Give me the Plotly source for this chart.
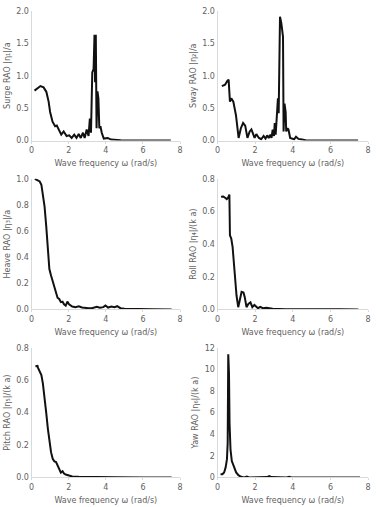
import plotly.graph_objects as go
from plotly.subplots import make_subplots

# ---- data ----
surge_w = [0.16, 0.48, 0.65, 0.8, 0.92, 1.0, 1.13, 1.27, 1.36, 1.48, 1.6, 1.73, 1.89, 2.03, 2.16, 2.3, 2.42, 2.54, 2.65, 2.77, 2.86, 2.97, 3.07, 3.14, 3.2, 3.27, 3.34, 3.39, 3.42, 3.46, 3.5, 3.55, 3.6, 3.65, 3.71, 3.78, 3.89, 4.1, 4.28, 4.8, 5.5, 6.5, 7.5]
surge_r = [0.77, 0.84, 0.82, 0.75, 0.6, 0.44, 0.29, 0.22, 0.23, 0.17, 0.09, 0.14, 0.07, 0.08, 0.04, 0.09, 0.04, 0.10, 0.04, 0.12, 0.04, 0.17, 0.07, 0.34, 0.12, 1.05, 1.1, 1.63, 0.9, 1.63, 0.19, 0.76, 0.65, 0.19, 0.22, 0.12, 0.03, 0.04, 0.015, 0.005, 0.002, 0.001, 0.0]

sway_w = [0.23, 0.4, 0.52, 0.59, 0.66, 0.73, 0.84, 0.98, 1.12, 1.24, 1.36, 1.47, 1.59, 1.71, 1.8, 1.89, 1.97, 2.06, 2.2, 2.32, 2.45, 2.55, 2.64, 2.72, 2.81, 2.87, 2.93, 3.0, 3.04, 3.09, 3.14, 3.21, 3.25, 3.32, 3.39, 3.44, 3.48, 3.51, 3.56, 3.62, 3.65, 3.72, 3.77, 3.86, 4.07, 4.17, 4.3, 4.42, 4.68, 5.5, 6.5, 7.47]
sway_r = [0.84, 0.86, 0.92, 0.94, 0.6, 0.65, 0.6, 0.39, 0.04, 0.19, 0.27, 0.23, 0.04, 0.14, 0.17, 0.09, 0.04, 0.10, 0.04, 0.02, 0.07, 0.03, 0.08, 0.04, 0.09, 0.04, 0.17, 0.07, 0.27, 0.09, 0.39, 0.65, 0.42, 1.91, 1.81, 1.62, 1.6, 0.14, 0.57, 0.44, 0.14, 0.19, 0.17, 0.04, 0.02, 0.06, 0.025, 0.02, 0.005, 0.002, 0.001, 0.0]

heave_w = [0.18, 0.35, 0.44, 0.53, 0.61, 0.7, 0.79, 0.88, 0.96, 1.05, 1.14, 1.23, 1.32, 1.4, 1.49, 1.58, 1.67, 1.75, 1.84, 1.93, 2.02, 2.19, 2.37, 2.54, 2.72, 2.9, 3.07, 3.25, 3.51, 3.68, 3.86, 3.98, 4.12, 4.3, 4.47, 4.61, 4.79, 5.0, 5.53, 6.5, 7.54]
heave_r = [1.0, 0.99, 0.98, 0.955, 0.89, 0.79, 0.64, 0.46, 0.31, 0.26, 0.22, 0.18, 0.13, 0.09, 0.08, 0.056, 0.06, 0.04, 0.03, 0.06, 0.04, 0.023, 0.018, 0.025, 0.015, 0.01, 0.01, 0.01, 0.02, 0.013, 0.018, 0.03, 0.015, 0.023, 0.018, 0.025, 0.01, 0.005, 0.002, 0.001, 0.0]

roll_w = [0.19, 0.31, 0.4, 0.49, 0.56, 0.63, 0.66, 0.73, 0.8, 0.87, 0.94, 1.01, 1.1, 1.19, 1.28, 1.38, 1.45, 1.54, 1.64, 1.75, 1.85, 1.96, 2.06, 2.15, 2.27, 2.41, 2.59, 2.93, 3.63, 4.5, 5.03, 5.73, 6.5, 7.48]
roll_r = [0.69, 0.692, 0.684, 0.676, 0.684, 0.704, 0.454, 0.434, 0.384, 0.284, 0.184, 0.084, 0.014, 0.074, 0.108, 0.104, 0.074, 0.014, 0.034, 0.044, 0.014, 0.028, 0.02, 0.008, 0.016, 0.008, 0.01, 0.004, 0.002, 0.003, 0.004, 0.002, 0.001, 0.0]

pitch_w = [0.21, 0.32, 0.35, 0.44, 0.53, 0.61, 0.7, 0.79, 0.88, 0.96, 1.05, 1.14, 1.23, 1.32, 1.4, 1.49, 1.58, 1.67, 1.75, 1.84, 2.02, 2.19, 2.54, 3.07, 4.5, 6.0, 7.54]
pitch_r = [0.686, 0.688, 0.676, 0.652, 0.632, 0.58, 0.5, 0.4, 0.3, 0.217, 0.156, 0.115, 0.099, 0.095, 0.075, 0.05, 0.03, 0.038, 0.024, 0.018, 0.01, 0.006, 0.004, 0.002, 0.001, 0.0, 0.0]

yaw_w = [0.16, 0.26, 0.35, 0.43, 0.5, 0.54, 0.57, 0.61, 0.64, 0.69, 0.76, 0.87, 0.99, 1.11, 1.25, 1.42, 1.56, 1.68, 2.63, 2.75, 2.86, 3.67, 3.81, 3.93, 5.5, 7.57]
yaw_r = [0.3, 0.3, 0.46, 0.91, 1.67, 3.19, 11.4, 9.57, 5.0, 2.58, 1.52, 0.91, 0.46, 0.21, 0.06, 0.0, 0.09, 0.0, 0.03, 0.12, 0.03, 0.0, 0.06, 0.0, 0.0, 0.0]

y_titles = ["Surge RAO |η₁|/a", "Sway RAO |η₂|/a", "Heave RAO |η₃|/a",
            "Roll RAO |η₄|/(k a)", "Pitch RAO |η₅|/(k a)", "Yaw RAO |η₆|/(k a)"]
y_ranges = [[0, 2.0], [0, 2.0], [0, 1.0], [0, 0.8], [0, 0.8], [0, 12]]
y_dticks = [0.5, 0.5, 0.2, 0.2, 0.2, 2]
y_formats = [".1f", ".1f", ".1f", ".1f", ".1f", "d"]
x_label = "Wave frequency ω (rad/s)"

series = [(surge_w, surge_r), (sway_w, sway_r), (heave_w, heave_r),
          (roll_w, roll_r), (pitch_w, pitch_r), (yaw_w, yaw_r)]

W, H = 376, 507
col_px = [(29, 180), (218, 371)]
row_px = [(7, 139), (178, 311), (350, 482)]

fig = make_subplots(rows=3, cols=2)
font_fam = "DejaVu Sans, Verdana, sans-serif"
grey = "#5f5f5f"

for i, (w, r) in enumerate(series):
    row, col = i // 2 + 1, i % 2 + 1
    fig.add_trace(go.Scatter(x=w, y=r, mode="lines",
                             line=dict(color="#111111", width=2),
                             showlegend=False), row=row, col=col)
    x0, x1 = col_px[col - 1]
    y0, y1 = row_px[row - 1]
    xd = [x0 / W, x1 / W]
    yd = [1 - y1 / H, 1 - y0 / H]
    fig.update_xaxes(domain=xd, range=[0, 8], dtick=2, tick0=0,
                     showgrid=False, zeroline=False, showline=True,
                     linecolor="#d9d9d9", linewidth=1,
                     ticks="outside", ticklen=2, tickcolor="#d9d9d9",
                     tickfont=dict(size=8, color=grey, family=font_fam),
                     title=dict(text=x_label, standoff=6,
                                font=dict(size=8, color=grey, family=font_fam)),
                     row=row, col=col)
    fig.update_yaxes(domain=yd, range=y_ranges[i], dtick=y_dticks[i], tick0=0,
                     tickformat=y_formats[i],
                     showgrid=False, zeroline=False, showline=True,
                     linecolor="#d9d9d9", linewidth=1, ticks="",
                     tickfont=dict(size=8, color=grey, family=font_fam),
                     title=dict(text=y_titles[i], standoff=4,
                                font=dict(size=8, color=grey, family=font_fam)),
                     row=row, col=col)

fig.update_layout(width=W, height=H, margin=dict(l=0, r=0, t=0, b=0),
                  paper_bgcolor="white", plot_bgcolor="white",
                  font=dict(family=font_fam))
fig.write_html("out.html")
